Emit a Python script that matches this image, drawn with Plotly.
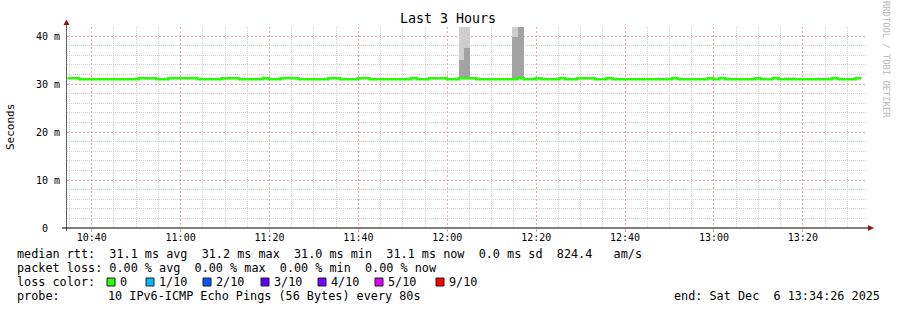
import datetime as dt
import plotly.graph_objects as go

# ---------------- data ----------------
start_time = dt.datetime(2025, 12, 6, 10, 34, 32)   # first 80 s step
step_seconds = 80
range_start = "2025-12-06 10:34:26"
range_end = "2025-12-06 13:34:26"

median_ms = [
    31.2, 31.2, 31.0, 31.0, 31.0, 31.0, 31.0, 31.0, 31.0, 31.0,
    31.0, 31.0, 31.2, 31.2, 31.2, 31.0, 31.0, 31.2, 31.2, 31.2,
    31.2, 31.2, 31.0, 31.0, 31.0, 31.0, 31.2, 31.2, 31.2, 31.0,
    31.0, 31.0, 31.0, 31.2, 31.0, 31.0, 31.2, 31.2, 31.2, 31.0,
    31.0, 31.0, 31.0, 31.0, 31.2, 31.2, 31.0, 31.0, 31.0, 31.2,
    31.2, 31.0, 31.0, 31.0, 31.0, 31.0, 31.0, 31.0, 31.2, 31.0,
    31.0, 31.2, 31.2, 31.2, 31.0, 31.0, 31.2, 31.2, 31.2, 31.0,
    31.0, 31.0, 31.0, 31.0, 31.0, 31.0, 31.2, 31.0, 31.0, 31.2,
    31.0, 31.0, 31.0, 31.2, 31.0, 31.0, 31.2, 31.2, 31.2, 31.0,
    31.0, 31.2, 31.0, 31.0, 31.0, 31.0, 31.0, 31.0, 31.0, 31.0,
    31.0, 31.0, 31.2, 31.0, 31.0, 31.0, 31.0, 31.0, 31.2, 31.0,
    31.2, 31.0, 31.0, 31.0, 31.0, 31.0, 31.2, 31.0, 31.0, 31.2,
    31.0, 31.0, 31.0, 31.0, 31.0, 31.0, 31.0, 31.0, 31.0, 31.2,
    31.0, 31.0, 31.0, 31.2,
]

# smoke (ping spread) at selected steps: outer (light) and inner (dark) bands
smoke_light_steps = [66, 67, 75, 121, 122]
smoke_light_low = [35.1, 37.6, 39.8, 31.0, 31.0]
smoke_light_high = [44.0, 44.0, 44.0, 31.4, 31.4]
smoke_dark_steps = [66, 67, 75, 76]
smoke_dark_low = [31.0, 31.0, 31.0, 31.0]
smoke_dark_high = [35.1, 37.6, 39.8, 44.0]

x_tick_vals = ["2025-12-06 10:40", "2025-12-06 11:00", "2025-12-06 11:20",
               "2025-12-06 11:40", "2025-12-06 12:00", "2025-12-06 12:20",
               "2025-12-06 12:40", "2025-12-06 13:00", "2025-12-06 13:20"]
x_tick_text = ["10:40", "11:00", "11:20", "11:40", "12:00", "12:20",
               "12:40", "13:00", "13:20"]
y_tick_vals = [0, 10, 20, 30, 40]
y_tick_text = ["0\u00a0\u00a0", "10 m", "20 m", "30 m", "40 m"]

title_text = "Last 3 Hours"
y_title = "Seconds"
line_rtt = "median rtt:  31.1 ms avg  31.2 ms max  31.0 ms min  31.1 ms now  0.0 ms sd  824.4   am/s"
line_loss = "packet loss: 0.00 % avg  0.00 % max  0.00 % min  0.00 % now"
loss_title = "loss color:"
loss_labels = ["0", "1/10", "2/10", "3/10", "4/10", "5/10", "9/10"]
loss_colors = ["#26ff00", "#00b8ff", "#0059ff", "#5e00ff", "#7e00ff", "#dd00ff", "#ff0000"]
probe_label = "probe:"
probe_text = "10 IPv6-ICMP Echo Pings (56 Bytes) every 80s"
end_text = "end: Sat Dec  6 13:34:26 2025"
watermark = "RRDTOOL / TOBI OETIKER"

# ---------------- layout helpers ----------------
W, H = 897, 310
L, R, T, B = 67, 30, 27, 82
PW, PH = W - L - R, H - T - B
FONT = "DejaVu Sans Mono"


def px(x):
    return (x - L) / PW


def py(y):
    return (H - B - y) / PH


def nb(s):
    return s.replace(" ", "\u00a0")


step = dt.timedelta(seconds=step_seconds)
line_x = [start_time + i * step for i in range(len(median_ms))] + [start_time + len(median_ms) * step]
line_y = median_ms + [median_ms[-1]]

# minor grid positions (every 5 min / 2 ms, skipping the major ones)
grid_t0 = dt.datetime(2025, 12, 6, 10, 35)
x_minor = [grid_t0 + dt.timedelta(minutes=5 * i) for i in range(36)]
x_minor = [t for t in x_minor if t.minute % 20 != 0]
y_minor = [v for v in range(2, 42, 2) if v % 10 != 0]

fig = go.Figure()


def smoke(steps, low, high, color):
    centers = [start_time + k * step + step / 2 for k in steps]
    fig.add_trace(go.Bar(
        x=centers, y=[h - l for l, h in zip(low, high)], base=low,
        width=step_seconds * 1000, marker=dict(color=color, line=dict(width=0)),
        hoverinfo="skip", showlegend=False))


smoke(smoke_light_steps, smoke_light_low, smoke_light_high, "#cecece")
smoke(smoke_dark_steps, smoke_dark_low, smoke_dark_high, "#a3a3a3")

fig.add_trace(go.Scatter(
    x=line_x, y=line_y, mode="lines", line=dict(color="#26ff00", width=2.6, shape="hv"),
    hoverinfo="skip", showlegend=False))

major_grid = "#f4a6a6"
minor_grid = "#d2d2d2"

fig.update_layout(
    width=W, height=H, margin=dict(l=L, r=R, t=T, b=B, autoexpand=False),
    paper_bgcolor="white", plot_bgcolor="white", barmode="overlay", bargap=0,
    font=dict(family=FONT, size=10, color="#000000"),
    xaxis=dict(
        type="date", range=[range_start, range_end],
        tickvals=x_tick_vals, ticktext=x_tick_text,
        showgrid=True, gridcolor=major_grid, gridwidth=1, griddash="2px,2px",
        minor=dict(tickmode="array", tickvals=x_minor, showgrid=True,
                   gridcolor=minor_grid, gridwidth=1, griddash="1px,1px"),
        ticks="outside", ticklen=3, tickcolor=major_grid,
        showline=False, zeroline=False, fixedrange=True,
        tickfont=dict(family=FONT, size=10, color="#000000"),
        ticklabelstandoff=-3,
    ),
    yaxis=dict(
        range=[0, PH / 4.8], tickvals=y_tick_vals, ticktext=y_tick_text,
        showgrid=True, gridcolor=major_grid, gridwidth=1, griddash="2px,2px",
        minor=dict(tickmode="array", tickvals=y_minor, showgrid=True,
                   gridcolor=minor_grid, gridwidth=1, griddash="1px,1px"),
        ticks="", showline=False, zeroline=False, fixedrange=True,
        tickfont=dict(family=FONT, size=10, color="#000000"),
        ticklabelstandoff=6,
    ),
)

shapes = []
# axes lines
shapes.append(dict(type="line", xref="paper", yref="paper", x0=px(66.5), x1=px(66.5),
                   y0=py(231), y1=py(24), line=dict(color="#606060", width=1)))
shapes.append(dict(type="line", xref="paper", yref="paper", x0=px(62), x1=px(869),
                   y0=py(228), y1=py(228), line=dict(color="#000000", width=1)))
# arrow heads
shapes.append(dict(type="path", xref="paper", yref="paper",
                   path=f"M {px(63.5)} {py(25)} L {px(69.5)} {py(25)} L {px(66.5)} {py(19.5)} Z",
                   fillcolor="#8b1a1a", line=dict(width=0)))
shapes.append(dict(type="path", xref="paper", yref="paper",
                   path=f"M {px(868)} {py(225)} L {px(868)} {py(231)} L {px(874)} {py(228)} Z",
                   fillcolor="#8b1a1a", line=dict(width=0)))

annotations = []


def text(x, y, s, size=11.8, anchor="left", color="#000000", angle=0):
    annotations.append(dict(xref="paper", yref="paper", x=px(x), y=py(y), text=nb(s),
                            showarrow=False, xanchor=anchor, yanchor="middle",
                            textangle=angle, borderpad=0,
                            font=dict(family=FONT, size=size, color=color)))


text(448, 19, title_text, size=13.3, anchor="center")
text(11, 127, y_title, size=11, anchor="center", angle=-90)
text(886, 59, watermark, size=8.8, anchor="center", color="#b8b8b8", angle=90)
text(16, 254, line_rtt)
text(16, 268, line_loss)
text(16, 282, loss_title)
text(16, 296, probe_label)
text(107, 296, probe_text)
text(881, 296, end_text, anchor="right")

box_lefts = [107, 146, 203, 261, 318, 375, 436]
for bx, col, lab in zip(box_lefts, loss_colors, loss_labels):
    shapes.append(dict(type="rect", xref="paper", yref="paper",
                       x0=px(bx), x1=px(bx + 8), y0=py(286), y1=py(278),
                       fillcolor=col, line=dict(color="#202020", width=1)))
    text(bx + 12, 282, lab)

fig.update_layout(shapes=shapes, annotations=annotations)
fig.write_html("out.html")
